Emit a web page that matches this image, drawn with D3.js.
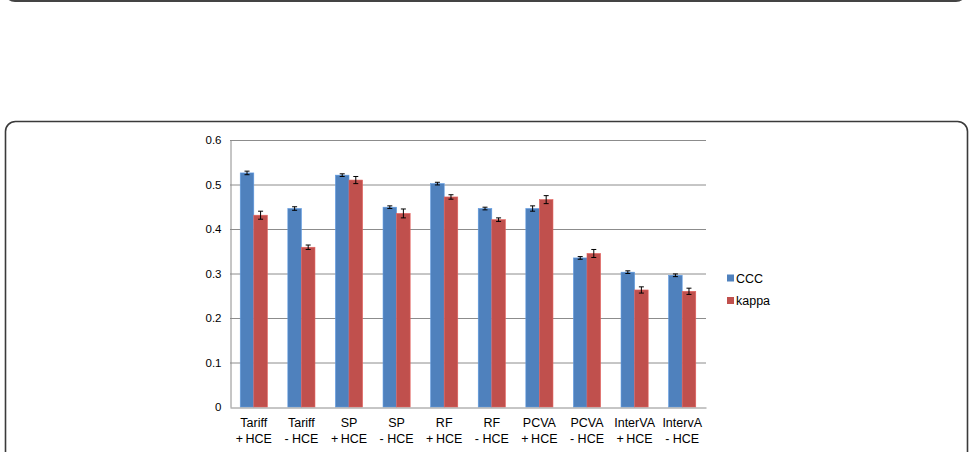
<!DOCTYPE html>
<html><head><meta charset="utf-8">
<script src="https://cdn.jsdelivr.net/npm/d3@7"></script>
<style>body{margin:0;background:#fff}svg{display:block;font-family:"Liberation Sans",Arial,sans-serif}</style>
</head><body><svg id="c" width="971" height="452"></svg>
<script>
const categories = [["Tariff","+\u2009HCE"],["Tariff","- HCE"],["SP","+\u2009HCE"],["SP","- HCE"],["RF","+\u2009HCE"],["RF","- HCE"],["PCVA","+\u2009HCE"],["PCVA","- HCE"],["InterVA","+\u2009HCE"],["IntervA","- HCE"]];
const seriesNames = ["CCC","kappa"];
const cccValues = [0.526,0.446,0.521,0.449,0.502,0.446,0.446,0.335,0.303,0.296];
const cccErrors = [0.004,0.004,0.003,0.003,0.003,0.003,0.006,0.003,0.003,0.003];
const kappaValues = [0.431,0.359,0.510,0.435,0.472,0.421,0.466,0.345,0.263,0.260];
const kappaErrors = [0.009,0.005,0.008,0.010,0.005,0.004,0.009,0.009,0.007,0.007];
const yTicks = [0,0.1,0.2,0.3,0.4,0.5,0.6];
const colors = ["#4F81BD","#C0504D"];

const svg = d3.select("#c");
// frames
svg.append("rect").attr("x",5).attr("y",-120).attr("width",961).attr("height",121)
  .attr("rx",10).attr("fill","none").attr("stroke","#444").attr("stroke-width",2);
svg.append("rect").attr("x",5.5).attr("y",121.5).attr("width",962).attr("height",400)
  .attr("rx",10).attr("fill","none").attr("stroke","#3a3a3a").attr("stroke-width",1.6);

const x0 = 230, x1 = 706, yTop = 140, yBot = 407;
const x = d3.scaleBand().domain(d3.range(categories.length)).range([x0,x1]).paddingInner(0.43).paddingOuter(0.215);
const y = d3.scaleLinear().domain([0,0.6]).range([yBot,yTop]);

const g = svg.append("g");
// grid
g.selectAll("line.grid").data(yTicks.filter(d=>d>0)).join("line")
  .attr("x1",x0).attr("x2",x1).attr("y1",d=>y(d)+0.5).attr("y2",d=>y(d)+0.5)
  .attr("stroke","#8c8c8c").attr("stroke-width",1);
// y axis
const yAxis = d3.axisLeft(y).tickValues(yTicks).tickSize(0).tickPadding(9).tickFormat(d=>d===0?"0":d3.format(".1f")(d));
const ya = g.append("g").attr("transform",`translate(${x0+0.5},0)`).call(yAxis);
ya.select(".domain").attr("stroke","#8c8c8c");
ya.selectAll("text").attr("font-size",11.5).attr("fill","#000").attr("font-family","Liberation Sans, Arial, sans-serif");

const series = [cccValues,kappaValues];
const errs = [cccErrors,kappaErrors];
const bw = x.bandwidth()/2;
series.forEach((vals,si)=>{
  g.selectAll("rect.s"+si).data(vals).join("rect")
    .attr("x",(d,i)=>x(i)+si*bw).attr("width",bw)
    .attr("y",d=>y(d)).attr("height",d=>yBot-y(d))
    .attr("fill",colors[si]).attr("stroke",d3.color(colors[si]).brighter(0.5)).attr("stroke-width",0.6);
  vals.forEach((v,i)=>{
    const cx = x(i)+si*bw+bw/2, e = errs[si][i];
    const eg = g.append("g").attr("stroke","#000").attr("stroke-width",1);
    eg.append("line").attr("x1",cx).attr("x2",cx).attr("y1",y(v+e)).attr("y2",y(v-e));
    eg.append("line").attr("x1",cx-2.5).attr("x2",cx+2.5).attr("y1",y(v+e)).attr("y2",y(v+e));
    eg.append("line").attr("x1",cx-2.5).attr("x2",cx+2.5).attr("y1",y(v-e)).attr("y2",y(v-e));
  });
});
// x axis
const xa = g.append("g").attr("transform",`translate(0,${yBot+0.5})`)
  .call(d3.axisBottom(x).tickSize(0).tickFormat(""));
xa.select(".domain").attr("stroke","#8c8c8c");
categories.forEach((c,i)=>{
  const t = g.append("text").attr("x",x(i)+x.bandwidth()/2).attr("y",427).attr("text-anchor","middle")
    .attr("font-size",12.5).attr("fill","#000");
  t.append("tspan").attr("x",x(i)+x.bandwidth()/2).text(c[0]);
  t.append("tspan").attr("x",x(i)+x.bandwidth()/2).attr("dy",16).text(c[1]);
});
// legend
seriesNames.forEach((n,i)=>{
  const ly = 278 + i*22.5;
  svg.append("rect").attr("x",727).attr("y",ly-3.5).attr("width",7).attr("height",7).attr("fill",colors[i]);
  svg.append("text").attr("x",736).attr("y",ly+4.5).attr("font-size",12.5).text(n);
});
</script></body></html>
